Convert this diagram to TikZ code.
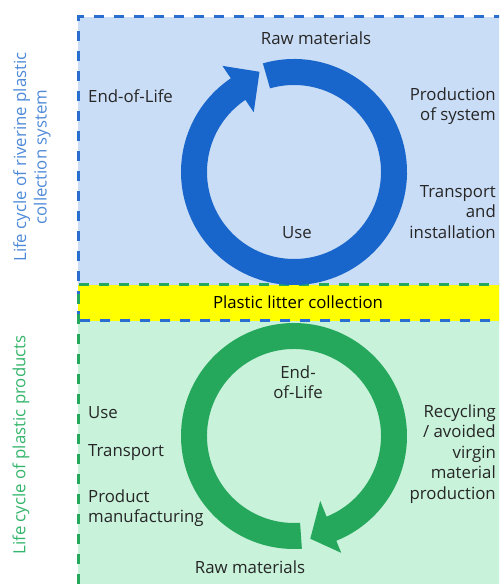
\documentclass[tikz,border=0pt]{standalone}
\usepackage{fontspec}
\setmainfont{Open Sans}
\usepackage{xcolor}
\definecolor{river-fill}{HTML}{CADDF6}
\definecolor{river-line}{HTML}{2A6FD0}
\definecolor{river-ring}{HTML}{1866CC}
\definecolor{river-label}{HTML}{4F8AD8}
\definecolor{product-fill}{HTML}{C8F2DA}
\definecolor{product-line}{HTML}{26A85C}
\definecolor{product-ring}{HTML}{26A85C}
\definecolor{product-label}{HTML}{35B56C}
\definecolor{litter-fill}{HTML}{FFFF00}
\definecolor{stage-text}{HTML}{262626}

\tikzset{
    stage/.style={text=stage-text, font=\fontsize{16.8}{20.5}\selectfont, inner sep=0pt},
    border/.style={line width=3pt, dash pattern=on 10pt off 10pt},
}

\begin{document}
\begin{tikzpicture}[x=1pt, y=1pt]

    % Canvas
    \useasboundingbox (0, 0) rectangle (499, 584);
    \clip (0, 0) rectangle (499, 584);

    % Panels
    \fill[river-fill] (78, 263) rectangle (520, 567);
    \fill[product-fill] (78, -20) rectangle (520, 299);
    \fill[litter-fill] (78, 263) rectangle (520, 299);
    \draw[border, river-line] (78, 263) rectangle (520, 567);
    \draw[border, product-line] (78, -20) rectangle (520, 299);

    % Riverine system ring
    \fill[river-ring, shift={(294, 412)}] (106:113)
        arc[start angle=106, end angle=-236, radius=113]
        -- (-236:128) -- (-251:106) -- (-236:72) -- (-236:87)
        arc[start angle=-236, end angle=106, radius=87] -- cycle;

    % Product ring
    \fill[product-ring, shift={(294, 148)}] (-86:113)
        arc[start angle=-86, end angle=-428, radius=113]
        -- (-428:126) -- (-441:104) -- (-428:70) -- (-428:87)
        arc[start angle=-428, end angle=-86, radius=87] -- cycle;

    % Stages of the collection system
    \node[stage] (raw-top) at (316, 546) {Raw materials};
    \node[stage, anchor=west] (eol-top) at (88, 488) {End-of-Life};
    \node[stage, anchor=east, align=right] (production) at (496, 478) {Production\\of system};
    \node[stage, anchor=east, align=right] (transport-top) at (496, 372) {Transport\\and\\installation};
    \node[stage] (use-top) at (297, 351) {Use};

    % Shared stage
    \node[stage, text=black] (litter) at (298, 282) {Plastic litter collection};

    % Stages of the products
    \node[stage, align=center] (eol-bottom) at (298, 202) {End-\\of-Life};
    \node[stage, anchor=east, align=right] (recycling) at (496, 130) {Recycling\\/ avoided\\virgin\\material\\production};
    \node[stage, anchor=west] (use-bottom) at (88, 171) {Use};
    \node[stage, anchor=west] (transport-bottom) at (88, 131) {Transport};
    \node[stage, anchor=west, align=left] (manufacturing) at (88, 76) {Product\\manufacturing};
    \node[stage] (raw-bottom) at (250, 17) {Raw materials};

    % Side titles
    \node[stage, text=river-label, rotate=90, align=center] (river-title) at (32, 427) {Life cycle of riverine plastic\\collection system};
    \node[stage, text=product-label, rotate=90] (product-title) at (21, 139) {Life cycle of plastic products};

\end{tikzpicture}
\end{document}
